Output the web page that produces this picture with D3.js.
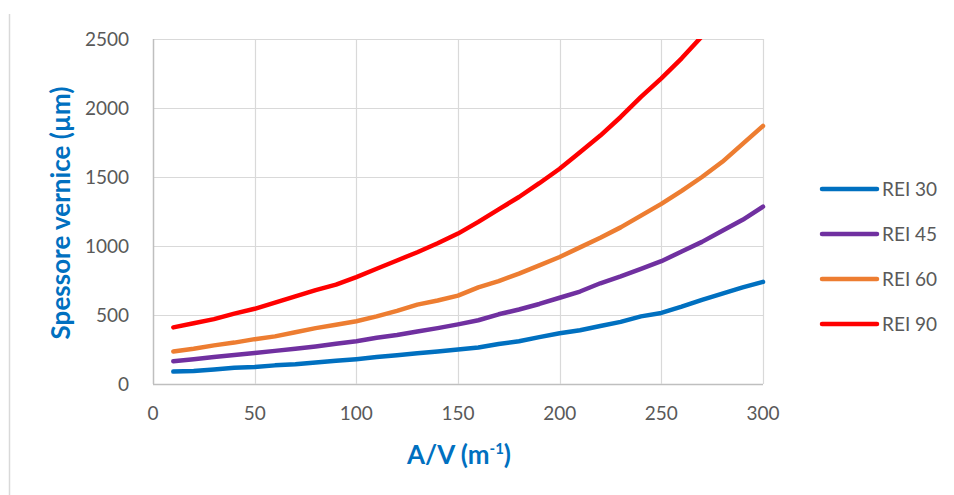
<!DOCTYPE html>
<html><head><meta charset="utf-8">
<script src="https://cdn.jsdelivr.net/npm/d3@7/dist/d3.min.js"></script>
<style>body{margin:0;background:#fff;}svg{display:block;}</style>
</head><body>
<svg id="c" width="954" height="495"></svg>
<script>
const xValues = [10,20,30,40,50,60,70,80,90,100,110,120,130,140,150,160,170,180,190,200,210,220,230,240,250,260,270,280,290,300];
const rei30 = [90,95,105,118,123,135,143,155,168,180,195,208,222,235,250,265,290,310,340,368,390,420,450,490,515,560,610,655,700,740];
const rei45 = [165,180,195,210,225,240,255,272,292,310,335,355,380,405,432,462,505,540,580,625,670,730,780,835,890,960,1030,1110,1190,1285];
const rei60 = [235,255,280,300,325,345,375,405,430,455,490,530,575,605,640,700,745,800,860,920,990,1060,1135,1220,1305,1400,1500,1610,1740,1870];
const rei90 = [410,440,470,510,545,590,635,680,720,775,835,895,955,1020,1090,1175,1265,1355,1455,1560,1680,1800,1935,2080,2215,2360,2520,2700,2890,3090];
const seriesNames = ["REI 30","REI 45","REI 60","REI 90"];
const seriesColors = ["#0070C0","#7030A0","#ED7D31","#FF0000"];
const xTicks = [0,50,100,150,200,250,300];
const yTicks = [0,500,1000,1500,2000,2500];

const series = [rei30, rei45, rei60, rei90];
const svg = d3.select("#c");
const font = "Lato, 'Open Sans', sans-serif";
const L = 153, R = 763, T = 39, B = 384;
const x = d3.scaleLinear().domain([0,300]).range([L,R]);
const y = d3.scaleLinear().domain([0,2500]).range([B,T]);

// chart frame left edge
svg.append("line").attr("x1",9.5).attr("x2",9.5).attr("y1",14).attr("y2",495)
  .attr("stroke","#d9d9d9").attr("stroke-width",1.5);

// gridlines
const g = svg.append("g");
g.selectAll(".hg").data(yTicks).join("line")
  .attr("x1",L).attr("x2",R).attr("y1",d=>Math.round(y(d))+0.5).attr("y2",d=>Math.round(y(d))+0.5)
  .attr("stroke",d=>d===0?"#bfbfbf":"#d9d9d9").attr("stroke-width",d=>d===0?1.5:1.2);
g.selectAll(".vg").data(xTicks).join("line")
  .attr("y1",T).attr("y2",B).attr("x1",d=>Math.round(x(d))+0.5).attr("x2",d=>Math.round(x(d))+0.5)
  .attr("stroke",d=>d===0?"#bfbfbf":"#d9d9d9").attr("stroke-width",d=>d===0?1.5:1.2);

// tick labels
svg.selectAll(".yl").data(yTicks).join("text")
  .attr("x",129).attr("y",d=>y(d)).attr("dy","0.35em").attr("text-anchor","end")
  .attr("font-family",font).attr("font-size",19).attr("fill","#595959").text(d=>d);
svg.selectAll(".xl").data(xTicks).join("text")
  .attr("x",d=>x(d)).attr("y",413).attr("dy","0.35em").attr("text-anchor","middle")
  .attr("font-family",font).attr("font-size",19).attr("fill","#595959").text(d=>d);

// clip
svg.append("clipPath").attr("id","clip").append("rect")
  .attr("x",L-5).attr("y",T).attr("width",R-L+10).attr("height",B-T+5);

const line = d3.line().x((d,i)=>x(xValues[i])).y(d=>y(d));
svg.append("g").attr("clip-path","url(#clip)").selectAll("path").data(series).join("path")
  .attr("d",line).attr("fill","none").attr("stroke",(d,i)=>seriesColors[i])
  .attr("stroke-width",4.5).attr("stroke-linecap","round").attr("stroke-linejoin","round");

// axis titles
svg.append("text").attr("transform","translate(70,213) rotate(-90)")
  .attr("text-anchor","middle").attr("font-family",font).attr("font-weight","bold")
  .attr("font-size",26).attr("fill","#0070C0").text("Spessore vernice (µm)");
const xt = svg.append("text").attr("x",459).attr("y",464).attr("text-anchor","middle")
  .attr("font-family",font).attr("font-weight","bold").attr("font-size",26).attr("fill","#0070C0");
xt.append("tspan").text("A/V (m");
xt.append("tspan").attr("font-size",15).attr("dy",-10).text("-1");
xt.append("tspan").attr("dy",10).text(")");

// legend
const lg = svg.selectAll(".lg").data(seriesNames).join("g")
  .attr("transform",(d,i)=>`translate(0,${189 + i*45})`);
lg.append("line").attr("x1",822).attr("x2",877).attr("y1",0).attr("y2",0)
  .attr("stroke",(d,i)=>seriesColors[i]).attr("stroke-width",4.5).attr("stroke-linecap","round");
lg.append("text").attr("x",882).attr("y",0).attr("dy","0.35em")
  .attr("font-family",font).attr("font-size",19).attr("fill","#595959").text(d=>d);
</script>
</body></html>
